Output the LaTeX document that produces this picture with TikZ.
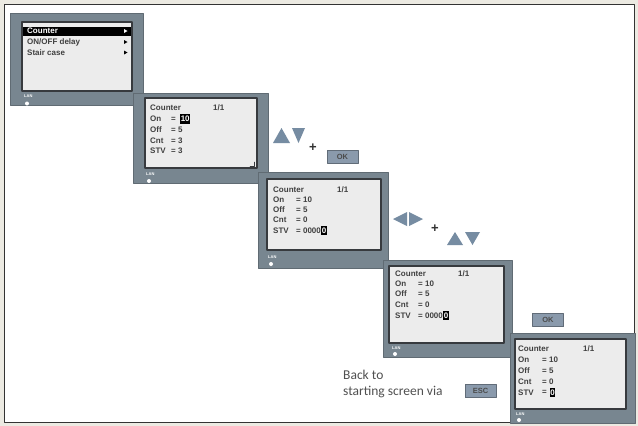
\documentclass[tikz,border=0pt]{standalone}
\usepackage{fontspec}
\setmainfont{Carlito}
\newfontfamily\lcdfont{Liberation Sans}
\definecolor{framebg}{RGB}{236,234,226}
\definecolor{bezelgray}{RGB}{120,134,144}
\definecolor{lcdbg}{RGB}{236,236,236}
\definecolor{lcdline}{RGB}{55,58,62}
\definecolor{keyblue}{RGB}{118,140,162}
\definecolor{okfill}{RGB}{138,154,172}
\definecolor{txtgray}{RGB}{80,80,80}
\tikzset{
  bezel/.style={fill=bezelgray,draw=bezelgray!80!black,line width=0.6pt},
  lcd/.style={fill=lcdbg,draw=lcdline,line width=1.2pt},
  lcdtxt/.style={anchor=west,inner sep=0pt,font=\lcdfont\bfseries\fontsize{8}{9}\selectfont,text=black!75},
  hilite/.style={lcdtxt,fill=black,text=white,inner xsep=0.6pt,inner ysep=2pt},
  lanlbl/.style={anchor=west,inner sep=0pt,font=\lcdfont\bfseries\fontsize{4}{4}\selectfont,text=white},
  keytri/.style={fill=keyblue},
  keybox/.style={fill=okfill,draw=okfill!70!black,line width=0.5pt,minimum width=31pt,minimum height=13pt,inner sep=0pt,font=\lcdfont\bfseries\fontsize{7.5}{8}\selectfont,text=black!70},
  pluskey/.style={inner sep=0pt,font=\lcdfont\bfseries\fontsize{13}{13}\selectfont,text=black!80},
  backtxt/.style={anchor=west,inner sep=0pt,font=\fontsize{13.5}{15}\selectfont,text=txtgray}
}
\begin{document}
\begin{tikzpicture}[x=1pt,y=-1pt,line cap=round,line join=round]
\useasboundingbox (0,0) rectangle (638,426);
\fill[framebg] (0,0) rectangle (638,426);
\draw[fill=white,draw=black!80,line width=0.8pt] (4,4) rectangle (634,422);
% screen 1: menu
\draw[bezel] (10,13) rectangle (143,105);
\draw[lcd] (22,22) rectangle (132,91);
\fill[black] (23,27) rectangle (131,35.5);
\node[lcdtxt,text=white] (m1) at (27,31) {Counter};
\node[lcdtxt] (m2) at (27,42) {ON/OFF delay};
\node[lcdtxt] (m3) at (27,52.5) {Stair case};
\fill[white] (124,29) -- (127.5,31) -- (124,33) -- cycle;
\fill[black] (124,40) -- (127.5,42) -- (124,44) -- cycle;
\fill[black] (124,50.5) -- (127.5,52.5) -- (124,54.5) -- cycle;
\node[lanlbl] (lan1) at (24,96) {LAN};
\fill[white] (27,103.5) circle (2);
% screen 2
\draw[bezel] (133,93) rectangle (268,183);
\draw[lcd] (145,98) rectangle (257,168);
\node[lcdtxt] (a0) at (150,108) {Counter};
\node[lcdtxt] (a0r) at (213,108) {1/1};
\node[lcdtxt] (a1) at (150,119) {On};
\node[lcdtxt] (a1e) at (171,119) {=};
\node[hilite] (a1v) at (180,119) {10};
\node[lcdtxt] (a2) at (150,130) {Off};
\node[lcdtxt] (a2e) at (171,130) {= 5};
\node[lcdtxt] (a3) at (150,140.5) {Cnt};
\node[lcdtxt] (a3e) at (171,140.5) {= 3};
\node[lcdtxt] (a4) at (150,151) {STV};
\node[lcdtxt] (a4e) at (171,151) {= 3};
\draw[lcdline,line width=0.5pt] (250,166) -- (254,166) -- (254,162);
\node[lanlbl] (lan2) at (146,174) {LAN};
\fill[white] (149,181) circle (2);
% keys: up/down + OK
\fill[keytri] (273,143) -- (281.5,128) -- (290,143) -- cycle;
\fill[keytri] (292,128) -- (305,128) -- (298.5,143) -- cycle;
\node[pluskey] (p1) at (313,148) {+};
\node[keybox] (ok1) at (342.5,156.5) {OK};
% screen 3
\draw[bezel] (258,172) rectangle (388,268);
\draw[lcd] (267,179) rectangle (381,250);
\node[lcdtxt] (b0) at (273,190) {Counter};
\node[lcdtxt] (b0r) at (337,190) {1/1};
\node[lcdtxt] (b1) at (273,200) {On};
\node[lcdtxt] (b1e) at (296,200) {= 10};
\node[lcdtxt] (b2) at (273,210) {Off};
\node[lcdtxt] (b2e) at (296,210) {= 5};
\node[lcdtxt] (b3) at (273,220) {Cnt};
\node[lcdtxt] (b3e) at (296,220) {= 0};
\node[lcdtxt] (b4) at (273,230.5) {STV};
\node[lcdtxt] (b4e) at (296,230.5) {= 0000};
\node[hilite] (b4v) at (b4e.east) {0};
\node[lanlbl] (lan3) at (268,257) {LAN};
\fill[white] (271,264) circle (2);
% keys: left/right + up/down
\fill[keytri] (393,219) -- (407,212) -- (407,226) -- cycle;
\fill[keytri] (409,212) -- (423,219) -- (409,226) -- cycle;
\node[pluskey] (p2) at (435,229) {+};
\fill[keytri] (447,245) -- (455,232) -- (463,245) -- cycle;
\fill[keytri] (465,232) -- (480,232) -- (472.5,245) -- cycle;
% screen 4
\draw[bezel] (383,260) rectangle (512,357);
\draw[lcd] (389,266) rectangle (504,343);
\node[lcdtxt] (c0) at (395,274) {Counter};
\node[lcdtxt] (c0r) at (458,274) {1/1};
\node[lcdtxt] (c1) at (395,284) {On};
\node[lcdtxt] (c1e) at (418,284) {= 10};
\node[lcdtxt] (c2) at (395,294) {Off};
\node[lcdtxt] (c2e) at (418,294) {= 5};
\node[lcdtxt] (c3) at (395,304.5) {Cnt};
\node[lcdtxt] (c3e) at (418,304.5) {= 0};
\node[lcdtxt] (c4) at (395,315.5) {STV};
\node[lcdtxt] (c4e) at (418,315.5) {= 0000};
\node[hilite] (c4v) at (c4e.east) {0};
\node[lanlbl] (lan4) at (392,348) {LAN};
\fill[white] (395,354) circle (2);
% OK to confirm
\node[keybox] (ok2) at (548,320) {OK};
% screen 5
\draw[bezel] (510,333) rectangle (635,423);
\draw[lcd] (515,339) rectangle (626,409);
\node[lcdtxt] (d0) at (518,349) {Counter};
\node[lcdtxt] (d0r) at (583,349) {1/1};
\node[lcdtxt] (d1) at (518,360) {On};
\node[lcdtxt] (d1e) at (542,360) {= 10};
\node[lcdtxt] (d2) at (518,370.5) {Off};
\node[lcdtxt] (d2e) at (542,370.5) {= 5};
\node[lcdtxt] (d3) at (518,381.5) {Cnt};
\node[lcdtxt] (d3e) at (542,381.5) {= 0};
\node[lcdtxt] (d4) at (518,392.5) {STV};
\node[lcdtxt] (d4e) at (542,392.5) {=};
\node[hilite] (d4v) at (549.5,392.5) {0};
\node[lanlbl] (lan5) at (516,414) {LAN};
\fill[white] (519,420) circle (2);
% back to start
\node[backtxt] (back1) at (343,375) {Back to};
\node[backtxt] (back2) at (343,392) {starting screen via};
\node[keybox] (esc) at (480.5,391) {ESC};
\end{tikzpicture}
\end{document}
